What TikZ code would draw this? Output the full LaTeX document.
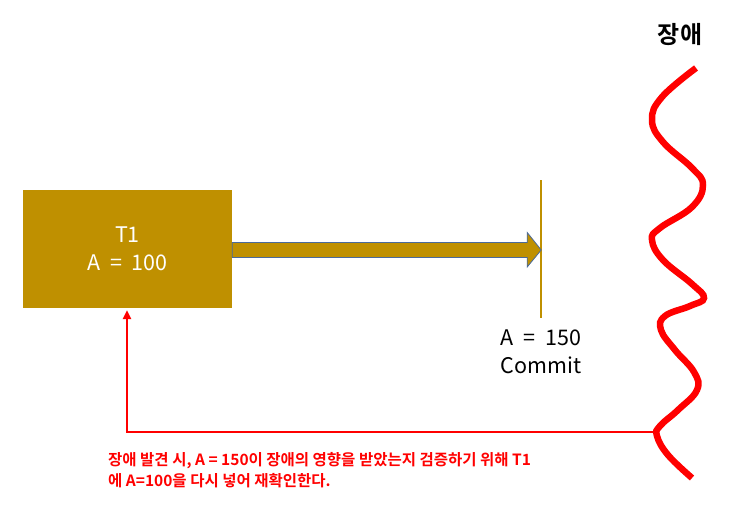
\documentclass[tikz,border=0pt]{standalone}
\usepackage{fontspec}
\setmainfont{Noto Sans CJK KR}
\newfontfamily\krbold{Noto Sans CJK KR Bold}
\usetikzlibrary{arrows.meta,calc}
\definecolor{gold}{HTML}{BF9000}
\definecolor{edgeblue}{HTML}{4A6A9A}
\newcommand{\wsp}{\hspace{0.45em}}
\begin{document}
\begin{tikzpicture}[x=1pt,y=-1pt,
  txbox/.style={fill=gold,draw=none,minimum width=209pt,minimum height=118pt,inner sep=0pt,
    text=white,font=\fontsize{21.5}{28}\selectfont,align=center},
  lbl/.style={font=\fontsize{21.5}{28}\selectfont,align=center,inner sep=0pt},
  redline/.style={draw=red,line width=2.5pt},
  wave/.style={draw=red,line width=6.5pt}]
\useasboundingbox (0,0) rectangle (737,517);
\node[txbox] (t1) at (127.5,249) {T1\\A\wsp=\wsp100};
% commit line
\coordinate (ctop) at (541,180);
\coordinate (cbot) at (541,318);
\draw[gold,line width=2.5pt] (ctop) -- (cbot);
% thick arrow
\draw[fill=gold,draw=edgeblue,line width=0.8pt]
  ($(t1.east)+(0,-6.5)$) -- ($(t1.east)+(295,-6.5)$) -- ($(t1.east)+(295,-16.5)$)
  -- ($(t1.east)+(309,1)$) -- ($(t1.east)+(295,18)$) -- ($(t1.east)+(295,8.5)$)
  -- ($(t1.east)+(0,8.5)$) -- cycle;
\node[lbl] (commit) at (541,352) {A\wsp=\wsp150\\Commit};
% wave
\draw[wave] plot[smooth,tension=0.7] coordinates {(696,68) (662,97) (652,120) (663,142) (692,168) (703,185) (692,207) (660,228) (652,240) (663,260) (692,284) (704,298) (690,306) (665,316) (661,330) (675,350) (694,372) (697,390) (678,410) (660,426) (657,436) (668,455) (692,478)};
\coordinate (w) at (657.5,432);
\node[font=\krbold\fontsize{24}{26}\selectfont,inner sep=0pt] (fail) at (680,35) {장애};
% red connector
\draw[redline,-{Triangle[length=9pt,width=8pt]}] (w) -- (127,432) -- ($(t1.south)+(-0.5,2)$);
\node[font=\krbold\fontsize{15.5}{21}\selectfont,text=red,align=left,anchor=north west,inner sep=0pt] (note) at (108,452)
  {장애 발견 시, A = 150이 장애의 영향을 받았는지 검증하기 위해 T1\\에 A=100을 다시 넣어 재확인한다.};
\end{tikzpicture}
\end{document}
